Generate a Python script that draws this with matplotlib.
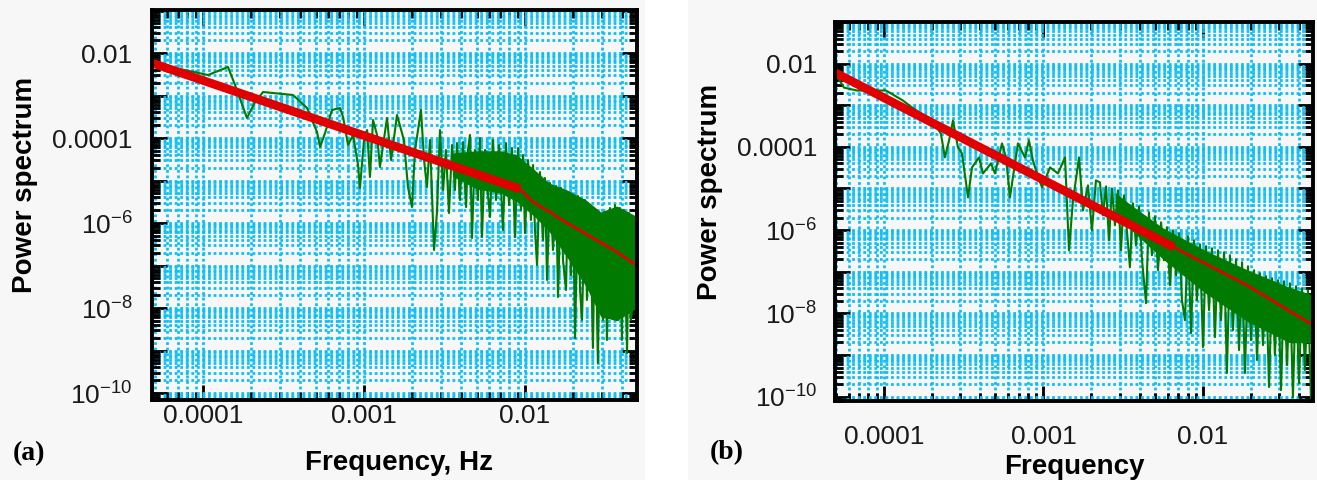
import matplotlib.pyplot as plt
import numpy as np
from matplotlib.patches import Rectangle
from matplotlib.ticker import LogLocator, NullFormatter

plt.rcParams['font.family'] = ['Liberation Sans', 'DejaVu Sans']
plt.rcParams['mathtext.fontset'] = 'custom'
plt.rcParams['mathtext.rm'] = 'Liberation Sans'

# values, stored as log10(frequency) and log10(power)

# ---- panel (a) ----
a_green_logf = [-4.317, -3.969, -3.845, -3.801, -3.727, -3.677, -3.627, -3.441, -3.354,
                -3.292, -3.273, -3.242, -3.199, -3.149, -3.130, -3.099, -3.068, -3.037,
                -3.025, -3.000, -2.981, -2.963, -2.944, -2.919, -2.901, -2.857, -2.832,
                -2.795, -2.752, -2.727, -2.702, -2.683, -2.646, -2.627, -2.609, -2.590,
                -2.565, -2.547, -2.528,
                -2.509, -2.491, -2.472, -2.453, -2.435, -2.422, -2.404, -2.385, -2.366,
                -2.354, -2.342, -2.329, -2.311, -2.292, -2.280, -2.267, -2.248, -2.230,
                -2.217, -2.199, -2.180, -2.161, -2.137, -2.118, -2.099, -2.081, -2.062,
                -2.043, -2.025, -2.012, -2.000, -1.981, -1.963, -1.950, -1.938, -1.925,
                -1.907, -1.888, -1.876, -1.863, -1.845, -1.826, -1.807, -1.795, -1.776,
                -1.764, -1.745, -1.733, -1.714, -1.702, -1.689, -1.671, -1.658, -1.646,
                -1.627, -1.615, -1.596, -1.578, -1.565, -1.547, -1.534, -1.516, -1.503,
                -1.491, -1.472, -1.453, -1.441, -1.422, -1.410, -1.398, -1.385, -1.366,
                -1.354, -1.342, -1.329, -1.317, -1.304]
a_green_logp = [-2.235, -2.518, -2.329, -2.753, -3.529, -3.153, -2.918, -2.988, -3.294,
                -3.859, -4.212, -3.882, -3.341, -3.294, -3.506, -4.165, -3.929, -4.635,
                -5.176, -4.047, -3.812, -4.918, -3.576, -3.929, -4.682, -3.529, -4.518,
                -3.459, -4.047, -5.153, -5.624, -4.282, -3.341, -4.518, -5.153, -4.047,
                -6.635, -5.765, -3.812,
                -5.224, -4.282, -5.765, -4.165, -5.224, -4.118, -5.459, -4.094, -5.624,
                -4.282, -3.929, -6.353, -4.282, -5.459, -4.000, -6.329, -4.282, -5.341,
                -5.859, -4.047, -5.459, -4.165, -6.165, -4.118, -5.576, -4.235, -6.329,
                -4.235, -5.694, -4.400, -6.235, -4.518, -5.929, -4.635, -6.165, -6.988,
                -4.800, -6.400, -4.941, -7.341, -5.059, -6.635, -5.129, -7.741, -5.176,
                -6.871, -7.576, -5.271, -7.224, -5.412, -8.706, -5.365, -7.576, -8.282,
                -5.459, -7.812, -5.576, -8.941, -5.694, -9.294, -5.812, -8.282, -5.741,
                -8.753, -5.647, -7.976, -5.576, -8.282, -5.647, -8.753, -5.694, -9.059,
                -5.765, -8.282, -7.812, -6.047, -8.518]
a_band_logf = [-2.450, -2.300, -2.150, -2.050, -1.940, -1.850, -1.740, -1.620, -1.530, -1.430, -1.304]
a_band_top = [-4.350, -4.300, -4.300, -4.400, -4.750, -5.060, -5.220, -5.460, -5.740, -5.600, -5.850]
a_band_bot = [-4.900, -5.200, -5.300, -5.500, -5.850, -6.200, -6.800, -7.500, -8.200, -8.300, -8.000]
a_fit_thick_logf = [-4.317, -2.031]
a_fit_thick_logp = [-2.235, -5.200]
a_fit_thin_logf = [-2.031, -1.950, -1.845, -1.739, -1.640, -1.534, -1.429, -1.329, -1.304]
a_fit_thin_logp = [-5.200, -5.506, -5.741, -6.000, -6.212, -6.447, -6.682, -6.941, -6.965]

# ---- panel (b) ----
b_green_logf = [-4.307, -4.251, -4.169, -3.987, -3.881, -3.824, -3.699, -3.643, -3.618,
                -3.592, -3.567, -3.536, -3.511, -3.473, -3.448, -3.404, -3.379, -3.329,
                -3.304, -3.260, -3.235, -3.210, -3.185, -3.160, -3.116, -3.091, -3.066,
                -3.041, -3.009, -2.959, -2.909, -2.865, -2.840, -2.815, -2.777, -2.752,
                -2.721, -2.696, -2.671,
                -2.646, -2.627, -2.608, -2.589, -2.571, -2.552, -2.533, -2.514, -2.495,
                -2.476, -2.458, -2.439, -2.420, -2.401, -2.382, -2.357, -2.339, -2.320,
                -2.301, -2.282, -2.263, -2.245, -2.226, -2.207, -2.188, -2.169, -2.150,
                -2.132, -2.113, -2.094, -2.075, -2.056, -2.038, -2.019, -2.000, -1.981,
                -1.962, -1.944, -1.925, -1.906, -1.887, -1.868, -1.850, -1.831, -1.812,
                -1.793, -1.774, -1.755, -1.737, -1.718, -1.699, -1.680, -1.661, -1.643,
                -1.624, -1.605, -1.586, -1.567, -1.549, -1.530, -1.511, -1.492, -1.473,
                -1.455, -1.436, -1.417, -1.398, -1.379, -1.361, -1.342, -1.323, -1.310]
b_green_logp = [-2.216, -2.576, -2.647, -2.647, -2.887, -3.055, -3.367, -3.679, -4.254,
                -3.847, -3.367, -4.014, -4.158, -5.213, -4.494, -4.254, -4.638, -4.398,
                -4.638, -3.918, -4.254, -5.213, -4.566, -3.918, -4.254, -3.847, -4.326,
                -4.638, -4.974, -4.494, -4.638, -4.254, -6.484, -5.285, -4.254, -5.525,
                -4.926, -6.005, -4.806,
                -4.854, -5.645, -4.950, -6.245, -4.998, -5.885, -5.046, -6.484, -5.165,
                -6.053, -6.892, -5.357, -6.365, -5.429, -6.724, -7.755, -5.573, -6.604,
                -5.669, -6.964, -5.813, -6.724, -5.933, -7.324, -6.005, -7.084, -6.077,
                -7.683, -8.163, -6.149, -8.475, -6.245, -7.683, -6.341, -8.811, -6.388,
                -7.923, -6.436, -8.571, -6.484, -8.163, -6.532, -9.434, -6.604, -8.403,
                -6.700, -8.882, -6.772, -9.434, -6.868, -8.643, -6.964, -9.122, -7.036,
                -8.763, -7.108, -9.770, -7.156, -9.002, -7.204, -9.842, -7.228, -9.242,
                -7.276, -10.010, -7.348, -9.674, -7.396, -9.362, -7.444, -10.034, -7.683]
b_band_logf = [-2.550, -2.450, -2.250, -1.990, -1.720, -1.460, -1.310]
b_band_top = [-5.100, -5.400, -5.950, -6.480, -6.960, -7.370, -7.560]
b_band_bot = [-5.600, -6.000, -6.700, -7.500, -8.200, -8.700, -8.700]
b_fit_thick_logf = [-4.307, -2.182]
b_fit_thick_logp = [-2.216, -6.412]
b_fit_thin_logf = [-2.182, -1.724, -1.310]
b_fit_thin_logp = [-6.412, -7.324, -8.283]

y_decades = list(range(-10, 0))
y_labels = {-10: r'$\mathregular{10^{-10}}$', -8: r'$\mathregular{10^{-8}}$',
            -6: r'$\mathregular{10^{-6}}$', -4: '0.0001', -2: '0.01'}
x_ticks = [1e-4, 1e-3, 1e-2]
x_labels = ['0.0001', '0.001', '0.01']

GRID = '#0fbff5'
GREEN = '#007a00'
RED = '#e00000'
BG = '#f7f7f7'

fig = plt.figure(figsize=(13.17, 4.83), dpi=100, facecolor='white')
fig.patches.append(Rectangle((0, 0.006), 0.4897, 0.994, transform=fig.transFigure,
                             facecolor=BG, edgecolor='none', zorder=-10))
fig.patches.append(Rectangle((0.5224, 0.006), 0.4776, 0.994, transform=fig.transFigure,
                             facecolor=BG, edgecolor='none', zorder=-10))


def draw_panel(ax, gf, gp, bf, btop, bbot, tf, tp, nf, nphi, xlim, ylim, xpad, ypad):
    p = lambda v: np.power(10.0, v)
    ax.set_facecolor(BG)
    ax.fill_between(p(np.array(bf)), p(np.array(bbot)), p(np.array(btop)),
                    color=GREEN, lw=0, zorder=2)
    ax.plot(p(np.array(gf)), p(np.array(gp)), color=GREEN, lw=1.5, zorder=3)
    ax.plot(p(np.array(tf)), p(np.array(tp)), color=RED, lw=6.2, solid_capstyle='butt', zorder=4)
    ax.plot(p(np.array(nf)), p(np.array(nphi)), color=RED, lw=2, zorder=4)
    ax.set_xscale('log')
    ax.set_yscale('log')
    ax.set_xlim(p(xlim[0]), p(xlim[1]))
    ax.set_ylim(p(ylim[0]), p(ylim[1]))
    ax.set_xticks(x_ticks, x_labels)
    ax.xaxis.set_minor_locator(LogLocator(base=10, subs=np.arange(2, 10), numticks=30))
    ax.xaxis.set_minor_formatter(NullFormatter())
    ax.set_yticks([p(d) for d in y_decades], [y_labels.get(d, '') for d in y_decades])
    ax.yaxis.set_minor_locator(LogLocator(base=10, subs=np.arange(2, 10), numticks=30))
    ax.yaxis.set_minor_formatter(NullFormatter())
    ax.grid(which='both', color=GRID, linestyle=(0, (1, 1)), linewidth=2.0, zorder=1)
    ax.set_axisbelow(True)
    ax.tick_params(which='both', direction='in', top=True, right=True, width=2,
                   color='black', labelcolor='#1a1a1a', labelsize=19)
    ax.tick_params(which='major', length=11)
    ax.tick_params(which='minor', length=6)
    ax.tick_params(axis='x', pad=xpad)
    ax.tick_params(axis='y', pad=ypad)
    for s in ax.spines.values():
        s.set_linewidth(2.8)
        s.set_zorder(6)
    ax.set_ylabel('Power spectrum', fontsize=20, fontweight='bold')
    ax.yaxis.set_label_coords(-0.262, 0.551)
    ax.yaxis.label.set_va('center')


ax_a = fig.add_axes([0.1154, 0.1718, 0.3683, 0.8075])
draw_panel(ax_a, a_green_logf, a_green_logp, a_band_logf, a_band_top, a_band_bot,
           a_fit_thick_logf, a_fit_thick_logp, a_fit_thin_logf, a_fit_thin_logp,
           (-4.317, -1.304), (-10.165, -0.988), 3, 14)
ax_a.set_xlabel('Frequency, Hz', fontsize=20, fontweight='bold')
ax_a.xaxis.set_label_coords(0.51, -0.162)
ax_a.xaxis.label.set_va('center')

ax_b = fig.add_axes([0.6340, 0.1698, 0.3630, 0.7847])
draw_panel(ax_b, b_green_logf, b_green_logp, b_band_logf, b_band_top, b_band_bot,
           b_fit_thick_logf, b_fit_thick_logp, b_fit_thin_logf, b_fit_thin_logp,
           (-4.307, -1.310), (-10.105, -1.017), 17, 13)
ax_b.set_xlabel('Frequency', fontsize=20, fontweight='bold')
ax_b.xaxis.set_label_coords(0.5, -0.174)
ax_b.xaxis.label.set_va('center')

fig.text(0.0099, 0.06, '(a)', family='Liberation Serif', fontweight='bold',
         fontsize=20, va='center')
fig.text(0.539, 0.062, '(b)', family='Liberation Serif', fontweight='bold',
         fontsize=20, va='center')

fig.savefig('out.png', dpi=100, facecolor=fig.get_facecolor())
